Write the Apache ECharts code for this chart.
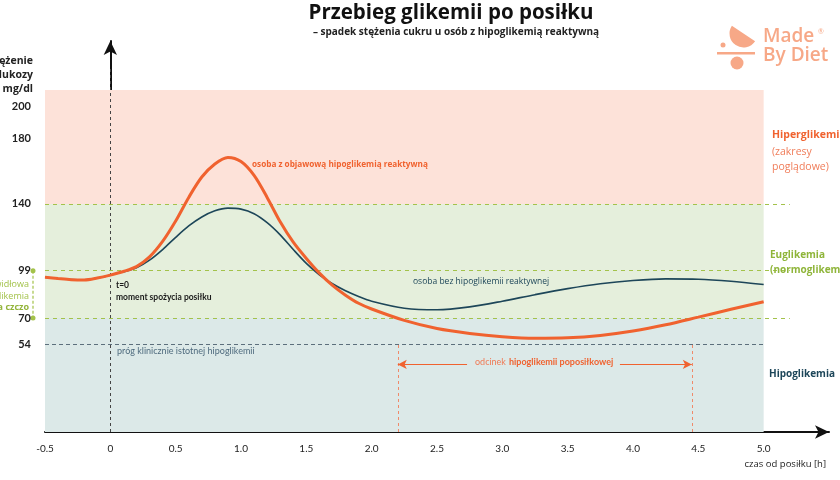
<!DOCTYPE html>
<html>
<head>
<meta charset="utf-8">
<script src="https://cdn.jsdelivr.net/npm/echarts@6/dist/echarts.min.js"></script>
<style>
  html, body { margin: 0; padding: 0; background: #fff; }
  #chart { width: 840px; height: 480px; }
</style>
</head>
<body>
<div id="chart"></div>
<script>
// czas od posiłku [h]
const czas = [-0.5, -0.4, -0.3, -0.2, -0.1, 0, 0.1, 0.2, 0.3, 0.4, 0.5, 0.6, 0.7, 0.8, 0.9, 1.0,
    1.1, 1.2, 1.3, 1.4, 1.5, 1.6, 1.7, 1.8, 1.9, 2.0, 2.25, 2.5, 2.75, 3.0, 3.25, 3.5, 3.75, 4.0, 4.25, 4.5, 4.75, 5.0];
// osoba z objawową hipoglikemią reaktywną
const glikemiaHipo = [95, 94.2, 93.5, 93.3, 94.5, 96.3, 98.5, 101.5, 107.5, 117, 129.5, 144, 156.5, 164.5, 168.5, 166,
    157.5, 144, 129, 116.5, 106.5, 97.5, 90, 84, 79, 75.5, 68.5, 63.5, 60.5, 58.5, 57.5, 57.8, 59.3, 62, 65.8, 70.5, 75.3, 80];
// osoba bez hipoglikemii reaktywnej
const glikemiaNorma = [95, 94.2, 93.5, 93.3, 94.5, 96.3, 98.3, 100.8, 105.5, 112, 119.5, 126.5, 132, 135.8, 137.4, 136.8,
    134, 128.5, 121, 112, 103.5, 96.5, 91, 86.7, 83.2, 80.3, 76, 75, 76.8, 80.3, 84.3, 88, 91, 93, 94, 93.8, 92.5, 90.5];

const yEtykiety = [54, 70, 99, 140, 180, 200];
const xEtykiety = [-0.5, 0, 0.5, 1.0, 1.5, 2.0, 2.5, 3.0, 3.5, 4.0, 4.5, 5.0];
const granice = [0, 70, 140, 210];       // hipo / eu / hiper
const progiEu = [140, 99, 70];
const progHipo = 54;
const odcinekHipo = [2.2, 4.45];

const LATO = 'Lato, "Noto Sans", sans-serif';
const OPEN = '"Open Sans", "Noto Sans", sans-serif';
const ORANGE = '#f0622f';
const NAVY = '#1d4659';
const GREEN = '#a3c24a';
const LOGO = '#f7a887';

const chart = echarts.init(document.getElementById('chart'));

const pary = (ys) => czas.map((t, i) => [t, ys[i]]);

const bandColors = ['#dce9e8', '#e5efdc', '#fde2d9'];
const bands = [];
for (let i = 0; i < granice.length - 1; i++) {
    bands.push([
        { coord: [-0.5, granice[i]], itemStyle: { color: bandColors[i] } },
        { coord: [5.0, granice[i + 1]] }
    ]);
}

const lines = [];
progiEu.forEach(v => {
    lines.push([
        { coord: [-0.5, v], lineStyle: { color: GREEN, type: [4, 4], width: 1 } },
        { coord: [5.2, v] }
    ]);
});
lines.push([
    { coord: [-0.5, progHipo], lineStyle: { color: '#5c6f7c', type: [4, 3], width: 1 } },
    { coord: [5.0, progHipo] }
]);
lines.push([
    { coord: [0, 0], lineStyle: { color: '#444', type: [3, 3], width: 1 } },
    { coord: [0, 223] }
]);
odcinekHipo.forEach(t => {
    lines.push([
        { coord: [t, 0], lineStyle: { color: '#f08a6a', type: [3, 3], width: 1 } },
        { coord: [t, progHipo] }
    ]);
});

// strzałki odcinka hipoglikemii
const arrows = [
    [{ coord: [2.73, 41.5] }, { coord: [odcinekHipo[0], 41.5] }],
    [{ coord: [3.9, 41.5] }, { coord: [odcinekHipo[1], 41.5] }]
];

chart.setOption({
    animation: false,
    backgroundColor: '#fff',
    grid: { left: 45, right: 11, top: 41, bottom: 48 },
    xAxis: {
        type: 'value', min: -0.5, max: 5.5, interval: 0.5,
        axisLine: { show: true, symbol: ['none', 'arrow'], symbolSize: [10, 14], lineStyle: { color: '#111', width: 2 } },
        axisTick: { show: false },
        splitLine: { show: false },
        axisLabel: {
            margin: 12, color: '#222', fontSize: 10, fontFamily: LATO,
            formatter: v => {
                const hit = xEtykiety.find(x => Math.abs(x - v) < 1e-6);
                if (hit === undefined) return '';
                return hit === 0 ? '0' : hit.toFixed(1);
            }
        }
    },
    yAxis: {
        type: 'value', min: 0, max: 240, interval: 1,
        axisLine: { show: true, symbol: ['none', 'arrow'], symbolSize: [10, 14], lineStyle: { color: '#111', width: 2 } },
        axisTick: { show: false },
        splitLine: { show: false },
        axisLabel: {
            margin: 14, color: '#222', fontSize: 11, fontWeight: 'bold', fontFamily: LATO,
            formatter: v => yEtykiety.indexOf(v) >= 0 ? String(v) : ''
        }
    },
    series: [
        {
            type: 'line', data: [], z: 1, silent: true,
            markArea: { silent: true, data: bands },
            markLine: { silent: true, symbol: 'none', label: { show: false }, data: lines }
        },
        {
            type: 'line', data: [], z: 2, silent: true,
            markLine: {
                silent: true, symbol: ['none', 'arrow'], symbolSize: [7, 9],
                label: { show: false },
                lineStyle: { color: ORANGE, type: 'solid', width: 1 },
                data: arrows
            }
        },
        {
            name: 'bez hipoglikemii', type: 'line', data: pary(glikemiaNorma),
            smooth: 0.3, showSymbol: false, z: 4,
            lineStyle: { color: NAVY, width: 1.6 }
        },
        {
            name: 'z hipoglikemią', type: 'line', data: pary(glikemiaHipo),
            smooth: 0.3, showSymbol: false, z: 5,
            lineStyle: { color: ORANGE, width: 3 }
        }
    ]
});

// adnotacje tekstowe
const px = (t, v) => chart.convertToPixel({ gridIndex: 0 }, [t, v]);
const txt = (x, y, text, style) => ({
    type: 'text', x: x, y: y, silent: true, z: 100,
    style: Object.assign({ text: text, fontFamily: LATO, fontSize: 9, fill: '#222' }, style)
});

const pEu = px(-0.5, 99);
const pEu2 = px(-0.5, 70);

chart.setOption({
    graphic: [
        txt(451, 3, 'Przebieg glikemii po posiłku', { fontFamily: OPEN, fontSize: 20.5, fontWeight: 'bold', fill: '#111', textAlign: 'center' }),
        txt(456, 27, '– spadek stężenia cukru u osób z hipoglikemią reaktywną', { fontFamily: OPEN, fontSize: 10, fontWeight: 'bold', fill: '#222', textAlign: 'center' }),

        txt(33, 54, 'stężenie\nglukozy\nmg/dl', { fontFamily: OPEN, fontSize: 10.5, fontWeight: 'bold', fill: '#222', textAlign: 'right', lineHeight: 14 }),

        // prawidłowa glikemia na czczo
        { type: 'line', silent: true, shape: { x1: 33, y1: pEu[1], x2: 33, y2: pEu2[1] }, style: { stroke: GREEN, lineDash: [3, 2], lineWidth: 1.2 } },
        { type: 'circle', silent: true, shape: { cx: 33, cy: pEu[1], r: 2.5 }, style: { fill: GREEN } },
        { type: 'circle', silent: true, shape: { cx: 33, cy: pEu2[1], r: 2.5 }, style: { fill: GREEN } },
        txt(29, pEu[1] + 8, 'prawidłowa\nglikemia', { fontFamily: OPEN, fontSize: 9, fill: GREEN, textAlign: 'right', lineHeight: 12 }),
        txt(29, pEu[1] + 32, 'na czczo', { fontFamily: OPEN, fontSize: 9, fontWeight: 'bold', fill: '#93b43a', textAlign: 'right' }),

        txt(116, 279, 't=0\nmoment spożycia posiłku', { fontSize: 8.5, fontWeight: 'bold', fill: '#1a1a1a', lineHeight: 12 }),
        txt(252, 161, 'osoba z objawową hipoglikemią reaktywną', { fontFamily: OPEN, fontSize: 8.2, fontWeight: 'bold', fill: ORANGE }),
        txt(413, 277, 'osoba bez hipoglikemii reaktywnej', { fontFamily: OPEN, fontSize: 8.5, fill: NAVY }),
        txt(117, 347, 'próg klinicznie istotnej hipoglikemii', { fontSize: 9, fill: '#4f6b7e' }),

        txt(475, 358, 'odcinek', { fontSize: 9, fill: '#f07a55' }),
        txt(509, 358, 'hipoglikemii poposiłkowej', { fontSize: 9, fontWeight: 'bold', fill: ORANGE }),

        // zakresy po prawej
        txt(772, 130, 'Hiperglikemia', { fontFamily: OPEN, fontSize: 10.5, fontWeight: 'bold', fill: ORANGE }),
        txt(772, 145, '(zakresy\npoglądowe)', { fontFamily: OPEN, fontSize: 10.5, fill: '#f07d5a', lineHeight: 15 }),
        txt(770, 248, 'Euglikemia\n(normoglikemia)', { fontFamily: OPEN, fontSize: 10, fontWeight: 'bold', fill: '#8fb53a', lineHeight: 15 }),
        txt(769, 369, 'Hipoglikemia', { fontFamily: OPEN, fontSize: 10, fontWeight: 'bold', fill: NAVY }),

        txt(826, 459, 'czas od posiłku [h]', { fontFamily: OPEN, fontSize: 9.5, fill: '#222', textAlign: 'right' }),

        // logo
        { type: 'sector', silent: true, shape: { cx: 743.5, cy: 33.5, r0: 0, r: 14, startAngle: 0.593, endAngle: 3.735, clockwise: true }, style: { fill: LOGO } },
        { type: 'circle', silent: true, shape: { cx: 723, cy: 45, r: 2.5 }, style: { fill: LOGO } },
        { type: 'rect', silent: true, shape: { x: 717, y: 52, width: 38, height: 2.5 }, style: { fill: LOGO } },
        { type: 'circle', silent: true, shape: { cx: 737, cy: 63, r: 6.5 }, style: { fill: LOGO } },
        txt(763, 27, 'Made', { fontFamily: OPEN, fontSize: 19, fontWeight: 600, fill: LOGO }),
        txt(818, 28, '®', { fontSize: 7, fill: LOGO }),
        txt(763, 46, 'By Diet', { fontFamily: OPEN, fontSize: 19, fontWeight: 600, fill: LOGO })
    ]
});
</script>
</body>
</html>
